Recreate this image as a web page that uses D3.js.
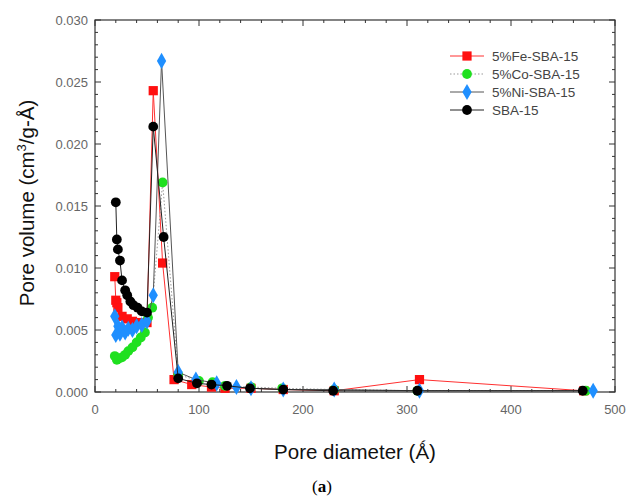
<!DOCTYPE html>
<html>
<head>
<meta charset="utf-8">
<script src="https://cdn.jsdelivr.net/npm/d3@7.9.0/dist/d3.min.js"></script>
<style>
  body { margin: 0; background: #fff; }
  svg { display: block; font-family: "Liberation Sans", Arial, sans-serif; }
</style>
</head>
<body>
<svg id="chart" width="626" height="500"></svg>
<script>
// pore size distributions
const feX = [19, 20, 21, 22, 26, 31, 36, 41, 50, 56, 65, 76, 93, 112, 125, 150, 181, 230, 312, 470];
const feY = [0.0093, 0.0074, 0.0072, 0.0068, 0.0061, 0.0059, 0.0057, 0.0056, 0.0056, 0.0243, 0.0104, 0.0010, 0.0006, 0.0004, 0.0003, 0.0003, 0.0002, 0.0001, 0.0010, 0.0001];

const coX = [19, 21, 23, 26, 29, 32, 36, 40, 44, 48, 51, 55, 65, 80, 100, 113, 125, 150, 180, 230, 310, 472];
const coY = [0.0029, 0.0026, 0.0027, 0.0028, 0.0030, 0.0033, 0.0036, 0.0040, 0.0044, 0.0048, 0.0060, 0.0068, 0.0169, 0.0014, 0.0009, 0.0008, 0.0005, 0.0004, 0.0003, 0.0002, 0.0001, 0.0001];

const niX = [19, 20, 22, 24, 26, 29, 32, 36, 40, 45, 50, 56, 64, 80, 97, 117, 136, 150, 181, 230, 312, 479];
const niY = [0.0061, 0.0046, 0.0053, 0.0047, 0.0052, 0.0048, 0.0051, 0.0050, 0.0053, 0.0054, 0.0057, 0.0078, 0.0267, 0.0016, 0.0010, 0.0007, 0.0004, 0.0003, 0.0002, 0.0002, 0.0001, 0.0001];

const sbaX = [20, 21, 22, 24, 26, 29, 31, 34, 37, 41, 45, 50, 56, 66, 80, 98, 112, 127, 149, 181, 229, 310, 469];
const sbaY = [0.0153, 0.0123, 0.0115, 0.0106, 0.0090, 0.0082, 0.0078, 0.0073, 0.0070, 0.0068, 0.0065, 0.0064, 0.0214, 0.0125, 0.0011, 0.0007, 0.0006, 0.0005, 0.0003, 0.0002, 0.0001, 0.0001, 0.0001];

const xTicks = [0, 100, 200, 300, 400, 500];
const yTicks = [0, 0.005, 0.010, 0.015, 0.020, 0.025, 0.030];

const series = [
  { name: "5%Fe-SBA-15", xs: feX, ys: feY, color: "#ff1010", line: "#ff3030", dash: null, shape: d3.symbolSquare, size: 85 },
  { name: "5%Co-SBA-15", xs: coX, ys: coY, color: "#1fe01f", line: "#999", dash: "1.5,2", shape: d3.symbolCircle, size: 75 },
  { name: "5%Ni-SBA-15", xs: niX, ys: niY, color: "#1f8fff", line: "#555", dash: null, shape: d3.symbolDiamond, size: 75 },
  { name: "SBA-15", xs: sbaX, ys: sbaY, color: "#000", line: "#222", dash: null, shape: d3.symbolCircle, size: 75 }
];

const svg = d3.select("#chart");
const L = 95, R = 615, T = 20, B = 392;

const x = d3.scaleLinear().domain([0, 500]).range([L, R]);
const y = d3.scaleLinear().domain([0, 0.030]).range([B, T]);

// frame
svg.append("rect")
  .attr("x", L).attr("y", T).attr("width", R - L).attr("height", B - T)
  .attr("fill", "none").attr("stroke", "#333").attr("stroke-width", 1.2);

// inward ticks on all four sides
const ticksG = svg.append("g").attr("stroke", "#333").attr("stroke-width", 1);
d3.range(0, 501, 20).forEach(v => {
  const len = v % 100 === 0 ? 6 : 3;
  ticksG.append("line").attr("x1", x(v)).attr("x2", x(v)).attr("y1", B).attr("y2", B - len);
  ticksG.append("line").attr("x1", x(v)).attr("x2", x(v)).attr("y1", T).attr("y2", T + len);
});
d3.range(0, 31).forEach(i => {
  const v = i / 1000;
  const len = i % 5 === 0 ? 6 : 3;
  ticksG.append("line").attr("x1", L).attr("x2", L + len).attr("y1", y(v)).attr("y2", y(v));
  ticksG.append("line").attr("x1", R).attr("x2", R - len).attr("y1", y(v)).attr("y2", y(v));
});

// tick labels
svg.append("g").selectAll("text").data(xTicks).join("text")
  .attr("x", d => x(d)).attr("y", B + 22)
  .attr("text-anchor", "middle").attr("font-size", 13).attr("fill", "#666")
  .text(d => d);
svg.append("g").selectAll("text").data(yTicks).join("text")
  .attr("x", L - 7).attr("y", d => y(d) + 5)
  .attr("text-anchor", "end").attr("font-size", 13).attr("fill", "#666")
  .text(d => d3.format(".3f")(d));

// axis titles
svg.append("text")
  .attr("x", 355).attr("y", 459).attr("text-anchor", "middle")
  .attr("font-size", 20.5).attr("fill", "#111")
  .text("Pore diameter (\u01FA)");

const yl = svg.append("text")
  .attr("transform", "translate(34,203) rotate(-90)")
  .attr("text-anchor", "middle").attr("font-size", 20.5).attr("fill", "#111");
yl.append("tspan").text("Pore volume (cm");
yl.append("tspan").attr("dy", -8).attr("font-size", 13).text("3");
yl.append("tspan").attr("dy", 8).text("/g-\u00C5)");

const cap = svg.append("text")
  .attr("x", 322).attr("y", 492).attr("text-anchor", "middle")
  .attr("font-family", "'Liberation Serif', 'DejaVu Serif', serif")
  .attr("font-size", 17).attr("fill", "#000");
cap.append("tspan").text("(");
cap.append("tspan").attr("font-weight", "bold").text("a");
cap.append("tspan").text(")");

// series
const line = d3.line().x(d => x(d[0])).y(d => y(d[1]));
series.forEach(s => {
  const pts = s.xs.map((v, i) => [v, s.ys[i]]);
  const g = svg.append("g");
  g.append("path").datum(pts)
    .attr("d", line).attr("fill", "none")
    .attr("stroke", s.line).attr("stroke-width", 1)
    .attr("stroke-dasharray", s.dash);
  g.selectAll("path.m").data(pts).join("path")
    .attr("class", "m")
    .attr("transform", d => `translate(${x(d[0])},${y(d[1])})`)
    .attr("d", d3.symbol().type(s.shape).size(s.size))
    .attr("fill", s.color);
});

// legend
const leg = svg.append("g");
series.forEach((s, i) => {
  const yy = 56 + i * 18;
  leg.append("line")
    .attr("x1", 450).attr("x2", 484).attr("y1", yy).attr("y2", yy)
    .attr("stroke", s.line).attr("stroke-width", 1)
    .attr("stroke-dasharray", s.dash);
  leg.append("path")
    .attr("transform", `translate(467,${yy})`)
    .attr("d", d3.symbol().type(s.shape).size(s.size))
    .attr("fill", s.color);
  leg.append("text")
    .attr("x", 492).attr("y", yy + 5)
    .attr("font-size", 13.5).attr("fill", "#444")
    .text(s.name);
});
</script>
</body>
</html>
